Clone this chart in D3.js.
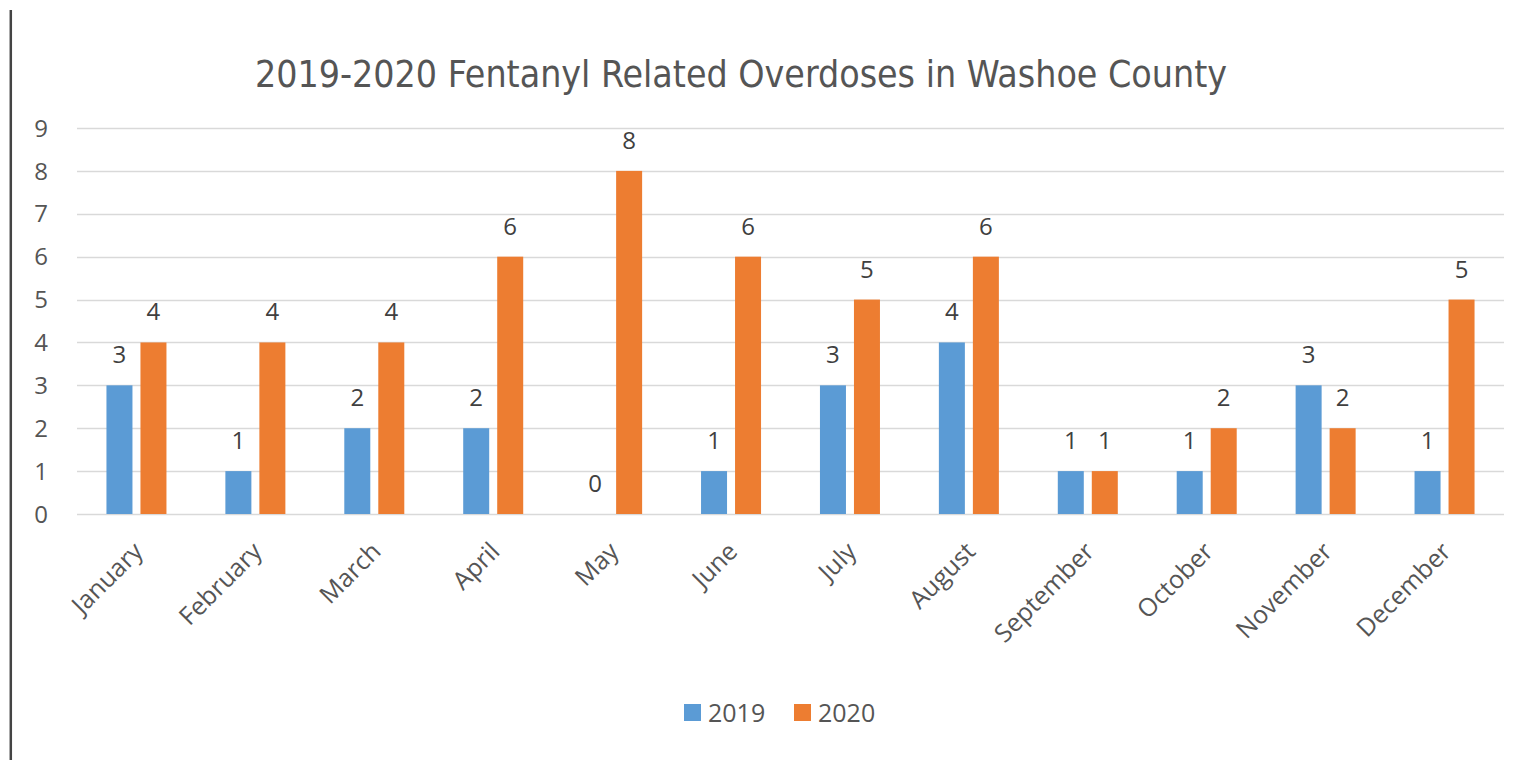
<!DOCTYPE html>
<html>
<head>
<meta charset="utf-8">
<script src="https://cdn.jsdelivr.net/npm/d3@7"></script>
<style>
  body { margin: 0; background: #fff; }
  svg text { font-family: 'Open Sans', 'DejaVu Sans', sans-serif; }
</style>
</head>
<body>
<svg id="chart"></svg>
<script>
'use strict';
var months = ['January', 'February', 'March', 'April', 'May', 'June', 'July',
              'August', 'September', 'October', 'November', 'December'];
var years = ['2019', '2020'];
var values2019 = [3, 1, 2, 2, 0, 1, 3, 4, 1, 1, 3, 1];
var values2020 = [4, 4, 4, 6, 8, 6, 5, 6, 1, 2, 2, 5];
var yTicks = [0, 1, 2, 3, 4, 5, 6, 7, 8, 9];
var colors = {'2019': '#5b9bd5', '2020': '#ed7d31'};
var title = '2019-2020 Fentanyl Related Overdoses in Washoe County';

var width = 1524, height = 760;
var svg = d3.select('#chart').attr('width', width).attr('height', height);

// the dark rule on the left edge of the screenshot
svg.append('line')
    .attr('x1', 10.8).attr('x2', 10.8)
    .attr('y1', 10).attr('y2', height)
    .attr('stroke', '#444').attr('stroke-width', 2.5);

var x = d3.scaleBand().domain(months).range([77, 1504]);
var y = d3.scaleLinear().domain([0, 9]).range([514, 128]);
var x1 = d3.scaleBand().domain(years)
    .range([x.bandwidth() / 2 - 30, x.bandwidth() / 2 + 30])
    .paddingInner(8 / 34);

svg.append('text')
    .attr('x', 741).attr('y', 87)
    .attr('text-anchor', 'middle')
    .attr('font-size', 38)
    .attr('fill', '#555')
    .attr('textLength', 972)
    .attr('lengthAdjust', 'spacingAndGlyphs')
    .style('font-family', "'Liberation Sans Narrow', 'DejaVu Sans Condensed', sans-serif")
    .text(title);

// gridlines
svg.append('g').selectAll('line')
    .data(yTicks)
    .enter().append('line')
    .attr('x1', 77).attr('x2', 1504)
    .attr('y1', function(d){ return Math.round(y(d)) + 0.5; })
    .attr('y2', function(d){ return Math.round(y(d)) + 0.5; })
    .attr('stroke', '#d9d9d9').attr('stroke-width', 1.5);

// y labels
svg.append('g').selectAll('text')
    .data(yTicks)
    .enter().append('text')
    .attr('x', 48)
    .attr('y', function(d){ return y(d); })
    .attr('dy', '0.36em')
    .attr('text-anchor', 'end')
    .attr('font-size', 24)
    .attr('fill', '#555')
    .text(function(d){ return d; });

var rows = months.map(function(m, i){
    return {month: m, values: [
        {year: '2019', value: values2019[i]},
        {year: '2020', value: values2020[i]}
    ]};
});

var groups = svg.append('g').selectAll('g')
    .data(rows)
    .enter().append('g')
    .attr('transform', function(d){ return 'translate(' + x(d.month) + ',0)'; });

groups.selectAll('rect')
    .data(function(d){ return d.values; })
    .enter().append('rect')
    .attr('x', function(d){ return x1(d.year); })
    .attr('width', x1.bandwidth())
    .attr('y', function(d){ return y(d.value); })
    .attr('height', function(d){ return y(0) - y(d.value); })
    .attr('fill', function(d){ return colors[d.year]; });

groups.selectAll('text')
    .data(function(d){ return d.values; })
    .enter().append('text')
    .attr('x', function(d){ return x1(d.year) + x1.bandwidth() / 2; })
    .attr('y', function(d){ return y(d.value) - 22; })
    .attr('text-anchor', 'middle')
    .attr('font-size', 24)
    .attr('fill', '#404040')
    .text(function(d){ return d.value; });

// month labels, rotated
svg.append('g').selectAll('text')
    .data(months)
    .enter().append('text')
    .attr('transform', function(d){
        return 'translate(' + (x(d) + x.bandwidth() / 2 + 8) + ',553) rotate(-45)';
    })
    .attr('text-anchor', 'end')
    .attr('font-size', 25)
    .attr('fill', '#555')
    .text(function(d){ return d; });

// legend
var legend = svg.append('g').selectAll('g')
    .data(years)
    .enter().append('g')
    .attr('transform', function(d, i){ return 'translate(' + (684 + i * 110) + ',704)'; });
legend.append('rect')
    .attr('width', 17).attr('height', 17)
    .attr('fill', function(d){ return colors[d]; });
legend.append('text')
    .attr('x', 24).attr('y', 17.5)
    .attr('font-size', 25)
    .attr('fill', '#555')
    .text(function(d){ return d; });
</script>
</body>
</html>
